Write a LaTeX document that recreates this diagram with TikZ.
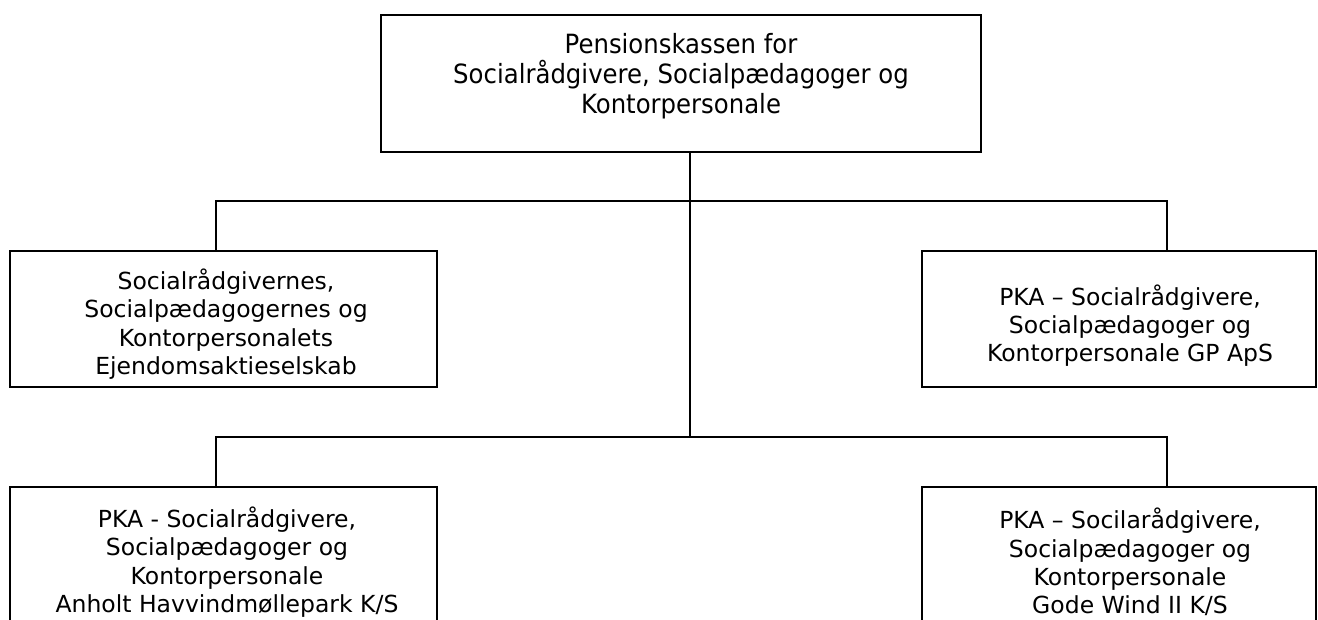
\documentclass[tikz,border=0pt]{standalone}
\usepackage{fontspec}
\setmainfont{DejaVu Sans}
\newfontfamily\topfont[FakeStretch=0.92]{DejaVu Sans}
\begin{document}
\begin{tikzpicture}[x=1pt,y=-1pt,
  box/.style={draw=black,line width=2pt,rectangle,inner sep=0pt},
  conn/.style={draw=black,line width=2pt},
  txt/.style={align=center,inner sep=0pt,font=\fontsize{23.5}{28.3}\selectfont},
  toptxt/.style={align=center,inner sep=0pt,font=\topfont\fontsize{26.5}{30}\selectfont}]
\clip (0,0) rectangle (1318,619);
\fill[white] (0,0) rectangle (1318,619);
% boxes
\node[box,minimum width=600pt,minimum height=137pt] (top) at (681,83.5) {};
\node[box,minimum width=427pt,minimum height=136pt] (ml) at (223.5,319) {};
\node[box,minimum width=394pt,minimum height=136pt] (mr) at (1119,319) {};
\node[box,minimum width=427pt,minimum height=160pt] (bl) at (223.5,567) {};
\node[box,minimum width=394pt,minimum height=160pt] (br) at (1119,567) {};
% texts
\node[toptxt] (toptext) at (681,76.5) {Pensionskassen for\\Socialrådgivere, Socialpædagoger og\\Kontorpersonale};
\node[txt] (mltext) at (226,324) {Socialrådgivernes,\\Socialpædagogernes og\\Kontorpersonalets\\Ejendomsaktieselskab};
\node[txt] (mrtext) at (1130,325.5) {PKA – Socialrådgivere,\\Socialpædagoger og\\Kontorpersonale GP ApS};
\node[txt] (bltext) at (227,562) {PKA - Socialrådgivere,\\Socialpædagoger og\\Kontorpersonale\\Anholt Havvindmøllepark K/S};
\node[txt] (brtext) at (1130,562) {PKA – Socilarådgivere,\\Socialpædagoger og\\Kontorpersonale\\Gode Wind II K/S};
% junctions
\coordinate (j1) at (690,201);
\coordinate (j2) at (690,437);
\coordinate (l1) at (216,201);
\coordinate (r1) at (1167,201);
\coordinate (l2) at (216,437);
\coordinate (r2) at (1167,437);
% connectors
\draw[conn] (top.south -| j1) -- (j2);
\draw[conn] (ml.north -| l1) -- (l1) -- (r1) -- (mr.north -| r1);
\draw[conn] (bl.north -| l2) -- (l2) -- (r2) -- (br.north -| r2);
\end{tikzpicture}
\end{document}
